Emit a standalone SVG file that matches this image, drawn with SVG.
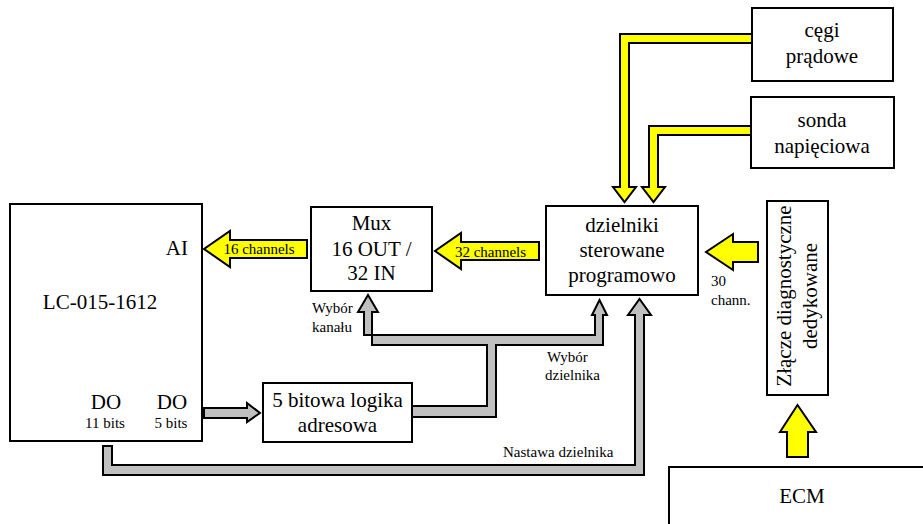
<svg xmlns="http://www.w3.org/2000/svg" width="923" height="524" viewBox="0 0 923 524" font-family="Liberation Serif, Times New Roman, DejaVu Serif, serif">
<style>
.box{fill:#fff;stroke:#000;stroke-width:2}
.t{font-size:21px;fill:#000;text-anchor:middle}
.s{font-size:15px;fill:#000}
.y{fill:#ffff00;stroke:#000;stroke-width:2;stroke-linejoin:miter}
.g{fill:#c0c0c0;stroke:#000;stroke-width:2;stroke-linejoin:miter}
</style>
<rect width="923" height="524" fill="#fff"/>
<g id="connectors">
  <path class="y" d="M307,240 L230,240 L230,231 L204,249 L230,267 L230,258 L307,258 Z"/>
  <path class="y" d="M539,242 L461,242 L461,233 L435,251 L461,269 L461,260 L539,260 Z"/>
  <path class="y" d="M752,34 L620,34 L620,187 L613,187 L624.5,202 L636,187 L629,187 L629,43 L752,43 Z"/>
  <path class="y" d="M751,126 L649,126 L649,187 L642,187 L653.5,202 L665,187 L658,187 L658,135 L751,135 Z"/>
  <path class="y" d="M758,242 L733,242 L733,234 L706,252 L733,270 L733,262 L758,262 Z"/>
  <path class="y" d="M787,457 L787,432 L780,432 L797.5,405 L816,432 L808,432 L808,457 Z"/>
  <path class="g" d="M204,408 L247,408 L247,403 L260,413 L247,422 L247,418 L204,418 Z"/>
  <path class="g" d="M412,406 L487,406 L487,345 L372,345 L372,312 L378,312 L368,295 L358,312 L364,312 L364,335 L595,335 L595,315 L592,315 L599.5,300 L607,315 L603,315 L603,345 L496,345 L496,417 L412,417 Z"/>
  <path class="g" d="M103,446 L112,446 L112,465 L635,465 L635,315 L628,315 L639.5,299 L651,315 L644,315 L644,475 L103,475 Z"/>
  <text class="s" x="259" y="254" text-anchor="middle">16 channels</text>
  <text class="s" x="490.5" y="257" text-anchor="middle">32 channels</text>
  <text class="s" x="711" y="286">30</text>
  <text class="s" x="711" y="305">chann.</text>
  <text class="s" x="312" y="313">Wybór</text>
  <text class="s" x="312" y="332">kanału</text>
  <text class="s" x="547" y="362">Wybór</text>
  <text class="s" x="545" y="380">dzielnika</text>
  <text class="s" x="503" y="457">Nastawa dzielnika</text>
</g>
<g id="lc">
  <rect class="box" x="10" y="204" width="192" height="237"/>
  <text class="t" x="188" y="255" style="text-anchor:end">AI</text>
  <text class="t" x="100" y="309">LC-015-1612</text>
  <text class="t" x="106" y="409">DO</text>
  <text class="s" x="105" y="428" text-anchor="middle">11 bits</text>
  <text class="t" x="172" y="409">DO</text>
  <text class="s" x="171" y="428" text-anchor="middle">5 bits</text>
</g>
<g id="mux">
  <rect class="box" x="311" y="207" width="121" height="84"/>
  <text class="t" x="371.5" y="230">Mux</text>
  <text class="t" x="371.5" y="256">16 OUT /</text>
  <text class="t" x="371.5" y="280">32 IN</text>
</g>
<g id="dzielniki">
  <rect class="box" x="546" y="206" width="152" height="89"/>
  <text class="t" x="622" y="232">dzielniki</text>
  <text class="t" x="622" y="257">sterowane</text>
  <text class="t" x="622" y="282">programowo</text>
</g>
<g id="cegi">
  <rect class="box" x="752" y="8" width="141" height="73"/>
  <text class="t" x="822" y="37">cęgi</text>
  <text class="t" x="822" y="63">prądowe</text>
</g>
<g id="sonda">
  <rect class="box" x="751" y="97" width="143" height="71"/>
  <text class="t" x="822" y="127">sonda</text>
  <text class="t" x="822" y="153">napięciowa</text>
</g>
<g id="zlacze">
  <rect class="box" x="767" y="201" width="61" height="194"/>
  <text class="t" transform="translate(791,296) rotate(-90)">Złącze diagnostyczne</text>
  <text class="t" transform="translate(817,296) rotate(-90)">dedykowane</text>
</g>
<g id="logika">
  <rect class="box" x="263" y="383" width="149" height="59"/>
  <text class="t" x="337.5" y="407">5 bitowa logika</text>
  <text class="t" x="337.5" y="432">adresowa</text>
</g>
<g id="ecm">
  <rect class="box" x="669" y="467" width="270" height="70"/>
  <text class="t" x="802" y="503">ECM</text>
</g>
</svg>
